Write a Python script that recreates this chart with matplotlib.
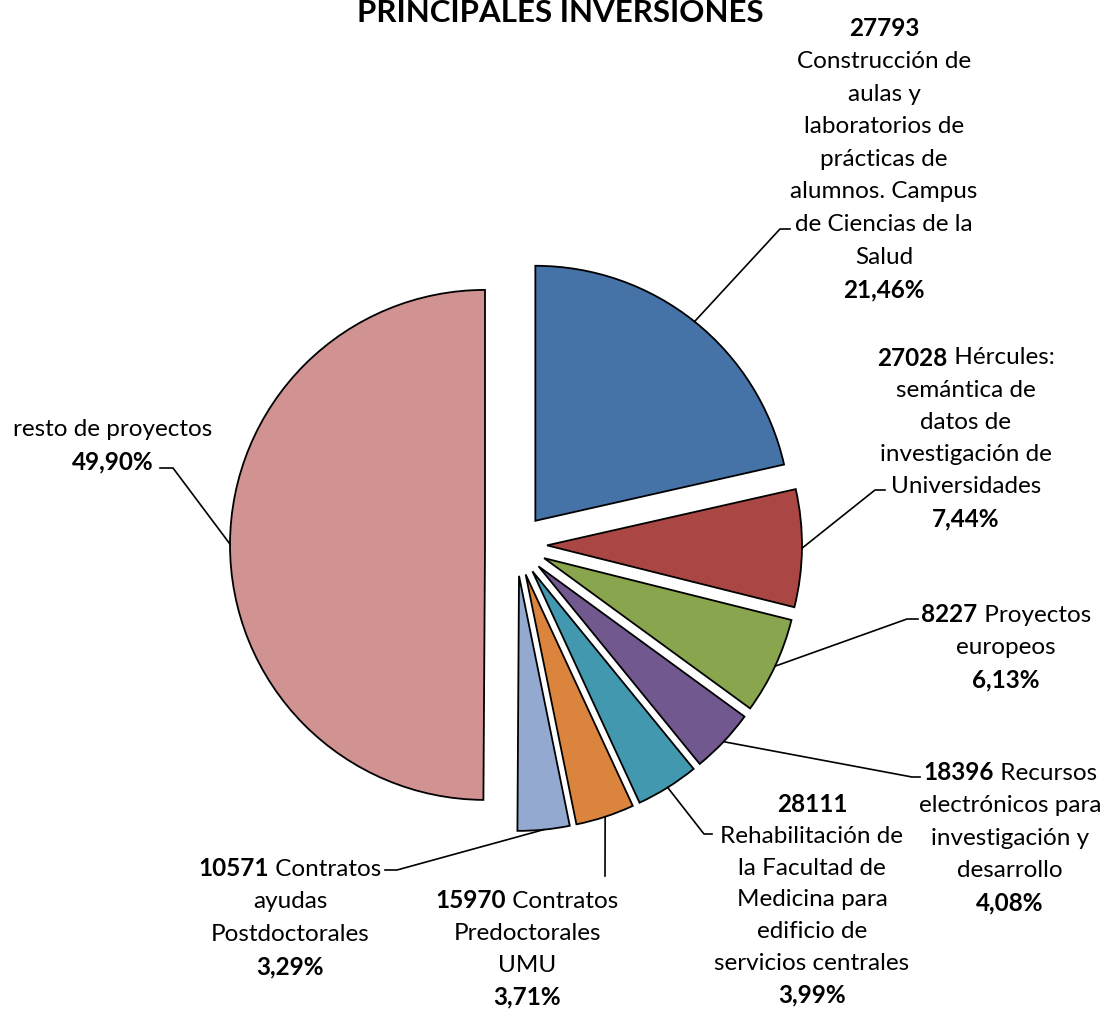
import numpy as np
import matplotlib
matplotlib.use("Agg")
import matplotlib.pyplot as plt

# --- DATA ---
codes = ['27793', '27028', '8227', '18396', '28111', '15970', '10571', '']
names = ['Construcción de\naulas y\nlaboratorios de\nprácticas de\nalumnos. Campus\nde Ciencias de la\nSalud',
         'Hércules:\nsemántica de\ndatos de\ninvestigación de\nUniversidades',
         'Proyectos\neuropeos',
         'Recursos\nelectrónicos para\ninvestigación y\ndesarrollo',
         'Rehabilitación de\nla Facultad de\nMedicina para\nedificio de\nservicios centrales',
         'Contratos\nPredoctorales\nUMU',
         'Contratos\nayudas\nPostdoctorales',
         'resto de proyectos']
pcts = [21.46, 7.44, 6.13, 4.08, 3.99, 3.71, 3.29, 49.90]
code_own_line = [True, False, False, False, True, False, False, False]
colors = ['#4572A7', '#AA4643', '#89A54E', '#71588F', '#4198AF', '#DB843D', '#93A9CF', '#D19392']

# --- LAYOUT (pixel coords, y from top) ---
W, H = 1106, 1009
label_pos = [(884, 29), (966, 358), (1006, 615), (1010, 773),
             (812, 805), (527, 901), (290, 869), (113, 429)]
line_steps = [32.6, 32.2, 32.6, 32.6, 31.6, 32.0, 32.6, 33.0]
elbows = [((780, 229), (790, 229)), ((875, 490), (885, 490)), ((907, 619), (918, 619)),
          ((912, 777), (920, 777)), ((704, 834), (712, 834)), ((605, 876), (605, 876)),
          ((397, 870), (385, 870)), ((173, 468), (160, 468))]
FONT = 'Lato'
FS = 17.5

fig = plt.figure(figsize=(W / 100, H / 100), dpi=100)
ax = fig.add_axes([0, 0, 1, 1])

# explode is in data units here (1 unit = 1 px)
wedges, _ = ax.pie(pcts, colors=colors, startangle=90, counterclock=False,
                   explode=[31] * len(pcts), radius=255, center=(516, H - 545),
                   wedgeprops={'edgecolor': 'black', 'linewidth': 1.3})
ax.set_xlim(0, W)
ax.set_ylim(0, H)
ax.set_aspect('auto')
ax.axis('off')

renderer = fig.canvas.get_renderer()


def draw_line(xc, ypx, segments):
    # draw segments [(text, bold)] centred on xc
    texts = []
    for txt, bold in segments:
        t = ax.text(0, H - ypx, txt, fontsize=FS, family=FONT,
                    fontweight='bold' if bold else 'normal', va='center', ha='left')
        texts.append(t)
    widths = [t.get_window_extent(renderer).width for t in texts]
    x = xc - sum(widths) / 2
    for t, w in zip(texts, widths):
        t.set_x(x)
        x += w


for i, w in enumerate(wedges):
    # leader line from the middle of the arc
    mid = np.deg2rad((w.theta1 + w.theta2) / 2)
    sx = w.center[0] + w.r * np.cos(mid)
    sy = w.center[1] + w.r * np.sin(mid)
    (ex, ey), (fx, fy) = elbows[i]
    ax.plot([sx, ex, fx], [sy, H - ey, H - fy], color='black', lw=1.2)

    # label lines
    name_lines = names[i].split('\n')
    lines = []
    if code_own_line[i]:
        lines.append([(codes[i], True)])
        lines += [[(s, False)] for s in name_lines]
    elif codes[i]:
        lines.append([(codes[i], True), (' ' + name_lines[0], False)])
        lines += [[(s, False)] for s in name_lines[1:]]
    else:
        lines += [[(s, False)] for s in name_lines]
    lines.append([(f"{pcts[i]:.2f}%".replace('.', ','), True)])
    xc, y0 = label_pos[i]
    for k, segs in enumerate(lines):
        draw_line(xc, y0 + k * line_steps[i], segs)

ax.text(560, H - 22, 'PRINCIPALES INVERSIONES', fontsize=22.5, family=FONT,
        fontweight='bold', ha='center', va='baseline')

plt.savefig('out.png', dpi=100)
